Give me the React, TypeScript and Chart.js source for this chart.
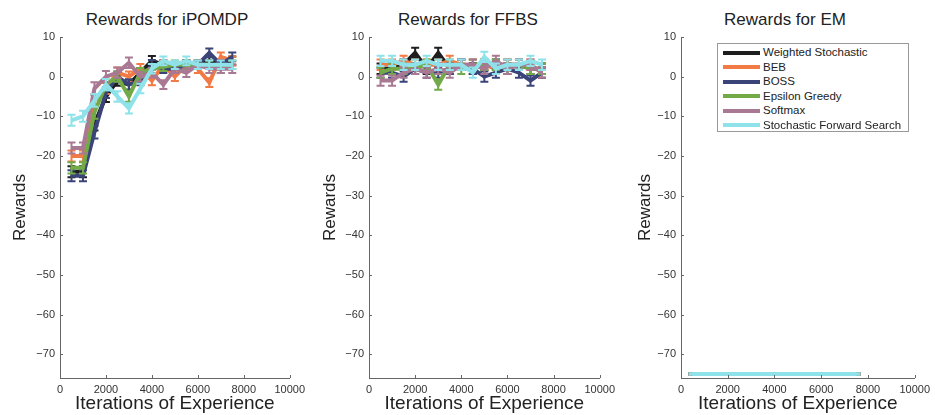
import React, { useEffect, useRef } from "react";
import { Chart, registerables } from "chart.js";

Chart.register(...registerables);

// ---------------- data ----------------
const ITERATIONS = [500, 1000, 1500, 2000, 2500, 3000, 3500, 4000, 4500, 5000, 5500, 6000, 6500, 7000, 7500];
const X_TICKS = [0, 2000, 4000, 6000, 8000, 10000];
const Y_TICKS = [-70, -60, -50, -40, -30, -20, -10, 0, 10];

const SERIES_NAMES = ["Weighted Stochastic", "BEB", "BOSS", "Epsilon Greedy", "Softmax", "Stochastic Forward Search"];
const SERIES_COLORS = ["#1e1e1e", "#f27a45", "#3b4478", "#72aa48", "#a97893", "#8fe2ea"];

const PANEL_TITLES = ["Rewards for iPOMDP", "Rewards for FFBS", "Rewards for EM"];

// iPOMDP
const IPOMDP_WEIGHTED = [-24, -24, -12, -5, -1, -2, 1, 4, 3, 2, 3, 3, 4, 3, 4];
const IPOMDP_BEB = [-20, -20, -6, -3, 1, 0, 2, -1, 3, 0, 3, 2, -1.5, 5, 4];
const IPOMDP_BOSS = [-25, -25, -14, -4, 0, -2, -1, 3, 2, 2, 3, 3, 6, 3, 5];
const IPOMDP_EPSILON = [-23, -23, -9, -2, 0, -5, 1, 2, 2.5, 3, 3, 3, 3, 2, 3];
const IPOMDP_SOFTMAX = [-18, -18, -3, 0, 1, 3.5, 0, 1, -2, 2, 1, 3, 2, 2, 2];
const IPOMDP_SFS = [-11, -10, -6, -2, -5, -8, -3, 2, 4, 3, 4, 3, 3, 3, 3];
const IPOMDP_ERR = [1.4, 1.4, 1.6, 1.4, 1.3, 1.3, 1.2, 1.2, 1.1, 1.1, 1.1, 1.1, 1.1, 1.1, 1.1];

// FFBS
const FFBS_WEIGHTED = [2, 2, 3, 6, 2, 6, 2, 3, 2, 3, 3, 3, 3, 2, 2];
const FFBS_BEB = [3, 3, 4, 3, 3, 3, 4, 3, 3, 3, 2, 3, 3, 3, 1];
const FFBS_BOSS = [1, 1, 0, 2, 1, 1, 2, 3, 2, 0, 1, 2, 1, -1, 1];
const FFBS_EPSILON = [1, 2, 2, 2, 3, -2, 3, 2, 3, 3, 3, 2, 3, 2, 2];
const FFBS_SOFTMAX = [-1, -1, 1, 2, 1, 2, 1, 3, 3, 2, 4, 2, 3, 3, 1];
const FFBS_SFS = [4, 4, 3, 3, 4, 3, 3, 3, 1, 5, 2, 3, 3, 4, 3];
const FFBS_ERR = [1.3, 1.3, 1.3, 1.3, 1.3, 1.3, 1.3, 1.3, 1.3, 1.3, 1.3, 1.3, 1.3, 1.3, 1.3];

// EM
const EM_WEIGHTED = [-75, -75, -75, -75, -75, -75, -75, -75, -75, -75, -75, -75, -75, -75, -75];
const EM_BEB = [-75, -75, -75, -75, -75, -75, -75, -75, -75, -75, -75, -75, -75, -75, -75];
const EM_BOSS = [-75, -75, -75, -75, -75, -75, -75, -75, -75, -75, -75, -75, -75, -75, -75];
const EM_EPSILON = [-75, -75, -75, -75, -75, -75, -75, -75, -75, -75, -75, -75, -75, -75, -75];
const EM_SOFTMAX = [-75, -75, -75, -75, -75, -75, -75, -75, -75, -75, -75, -75, -75, -75, -75];
const EM_SFS = [-75, -75, -75, -75, -75, -75, -75, -75, -75, -75, -75, -75, -75, -75, -75];
const EM_ERR = [0.2, 0.2, 0.2, 0.2, 0.2, 0.2, 0.2, 0.2, 0.2, 0.2, 0.2, 0.2, 0.2, 0.2, 0.2];

const PANEL_SERIES = [
  [IPOMDP_WEIGHTED, IPOMDP_BEB, IPOMDP_BOSS, IPOMDP_EPSILON, IPOMDP_SOFTMAX, IPOMDP_SFS],
  [FFBS_WEIGHTED, FFBS_BEB, FFBS_BOSS, FFBS_EPSILON, FFBS_SOFTMAX, FFBS_SFS],
  [EM_WEIGHTED, EM_BEB, EM_BOSS, EM_EPSILON, EM_SOFTMAX, EM_SFS],
];
const PANEL_ERRORS = [IPOMDP_ERR, FFBS_ERR, EM_ERR];

// ---------------- layout ----------------
const FONT = "'Liberation Sans', Arial, Helvetica, sans-serif";
const PANELS_LAYOUT = [
  { left: 0, width: 310, axisWidth: 60, rightPad: 16, titleCenter: 167 },
  { left: 310, width: 310, axisWidth: 59, rightPad: 16, titleCenter: 468 },
  { left: 625, width: 310, axisWidth: 56, rightPad: 18, titleCenter: 785 },
];

const errorBarPlugin = {
  id: "errorBars",
  afterDatasetDraw(chart: any, args: any) {
    const ds = chart.data.datasets[args.index];
    const errs: number[] = ds.errors;
    const vals: number[] = ds.values;
    if (!errs) return;
    const yScale = chart.scales.y;
    const ctx = chart.ctx;
    const area = chart.chartArea;
    ctx.save();
    ctx.beginPath();
    ctx.rect(area.left, area.top, area.right - area.left, area.bottom - area.top);
    ctx.clip();
    ctx.strokeStyle = ds.borderColor;
    ctx.lineWidth = 2;
    const cap = 4;
    args.meta.data.forEach((pt: any, i: number) => {
      const x = pt.x;
      const y1 = yScale.getPixelForValue(vals[i] - errs[i]);
      const y2 = yScale.getPixelForValue(vals[i] + errs[i]);
      ctx.beginPath();
      ctx.moveTo(x, y1);
      ctx.lineTo(x, y2);
      ctx.moveTo(x - cap, y1);
      ctx.lineTo(x + cap, y1);
      ctx.moveTo(x - cap, y2);
      ctx.lineTo(x + cap, y2);
      ctx.stroke();
    });
    ctx.restore();
  },
};

const inwardTicksPlugin = {
  id: "inwardTicks",
  afterDraw(chart: any) {
    const { ctx, chartArea, scales } = chart;
    ctx.save();
    ctx.strokeStyle = "#666";
    ctx.lineWidth = 1;
    ctx.beginPath();
    scales.x.ticks.forEach((t: any) => {
      const px = Math.round(scales.x.getPixelForValue(t.value)) + 0.5;
      ctx.moveTo(px, chartArea.bottom);
      ctx.lineTo(px, chartArea.bottom - 3);
    });
    scales.y.ticks.forEach((t: any) => {
      const py = Math.round(scales.y.getPixelForValue(t.value)) + 0.5;
      ctx.moveTo(chartArea.left, py);
      ctx.lineTo(chartArea.left + 3, py);
    });
    ctx.stroke();
    ctx.restore();
  },
};

function Panel({ index }: { index: number }) {
  const ref = useRef<HTMLCanvasElement | null>(null);
  const lay = PANELS_LAYOUT[index];
  useEffect(() => {
    if (!ref.current) return;
    const series = PANEL_SERIES[index];
    const errs = PANEL_ERRORS[index];
    const chart = new Chart(ref.current, {
      type: "line",
      data: {
        datasets: series.map((vals, i) => ({
          label: SERIES_NAMES[i],
          data: ITERATIONS.map((x, k) => ({ x, y: vals[k] })),
          values: vals,
          errors: errs,
          borderColor: SERIES_COLORS[i],
          backgroundColor: SERIES_COLORS[i],
          borderWidth: 4,
          pointRadius: 0,
          tension: 0,
          fill: false,
          order: series.length - i,
        })) as any,
      },
      options: {
        animation: false,
        responsive: false,
        devicePixelRatio: 1,
        events: [],
        layout: { padding: { top: 37, right: lay.rightPad, left: 0, bottom: 0 } },
        plugins: {
          legend: { display: false },
          tooltip: { enabled: false },
          title: { display: false },
        },
        scales: {
          x: {
            type: "linear",
            min: 0,
            max: 10000,
            afterBuildTicks: (s: any) => {
              s.ticks = X_TICKS.map((v) => ({ value: v }));
            },
            afterFit: (s: any) => {
              s.height = 37;
            },
            grid: { display: true, drawOnChartArea: false, drawTicks: false },
            border: { display: true, color: "#666", width: 1 },
            ticks: {
              autoSkip: false,
              maxRotation: 0,
              padding: 5,
              color: "#333",
              font: { family: FONT, size: 11 },
              callback: (v: any) => String(v),
            },
            title: {
              display: true,
              text: "Iterations of Experience",
              color: "#222",
              font: { family: FONT, size: 19 },
              padding: { top: 0, bottom: 0 },
            },
          },
          y: {
            type: "linear",
            min: -76,
            max: 10,
            afterBuildTicks: (s: any) => {
              s.ticks = Y_TICKS.map((v) => ({ value: v }));
            },
            afterFit: (s: any) => {
              s.width = lay.axisWidth;
            },
            grid: { display: true, drawOnChartArea: false, drawTicks: false },
            border: { display: true, color: "#666", width: 1 },
            ticks: {
              padding: 5,
              color: "#333",
              font: { family: FONT, size: 11 },
              callback: (v: any) => String(v).replace("-", "\u2212"),
            },
            title: {
              display: true,
              text: "Rewards",
              color: "#222",
              font: { family: FONT, size: 17 },
              padding: { top: 10, bottom: 0 },
            },
          },
        },
      },
      plugins: [errorBarPlugin, inwardTicksPlugin],
    });
    return () => chart.destroy();
  }, [index]);

  return (
    <canvas
      ref={ref}
      width={lay.width}
      height={415}
      style={{ position: "absolute", left: lay.left, top: 0, width: lay.width, height: 415 }}
    />
  );
}

function Legend() {
  return (
    <div
      style={{
        position: "absolute",
        left: 717,
        top: 43,
        width: 192,
        height: 89,
        border: "1px solid #999",
        background: "#fff",
        boxSizing: "border-box",
        paddingTop: 1,
        fontFamily: FONT,
        fontSize: 11.5,
        color: "#222",
      }}
    >
      {SERIES_NAMES.map((name, i) => (
        <div key={name} style={{ position: "relative", height: 14.6, lineHeight: "14.6px", whiteSpace: "nowrap" }}>
          <span
            style={{
              position: "absolute",
              left: 5,
              top: 5.5,
              width: 37,
              height: 4,
              background: SERIES_COLORS[i],
            }}
          />
          <span style={{ position: "absolute", left: 45, top: 0 }}>{name}</span>
        </div>
      ))}
    </div>
  );
}

export default function App() {
  return (
    <div
      style={{
        position: "fixed",
        left: 0,
        top: 0,
        width: 935,
        height: 415,
        background: "#fff",
        overflow: "hidden",
      }}
    >
      {PANEL_TITLES.map((t, i) => (
        <div
          key={t}
          style={{
            position: "absolute",
            left: PANELS_LAYOUT[i].titleCenter - 150,
            width: 300,
            top: 9,
            height: 22,
            lineHeight: "22px",
            textAlign: "center",
            fontFamily: FONT,
            fontSize: 17,
            color: "#222",
          }}
        >
          {t}
        </div>
      ))}
      <Panel index={0} />
      <Panel index={1} />
      <Panel index={2} />
      <Legend />
    </div>
  );
}
